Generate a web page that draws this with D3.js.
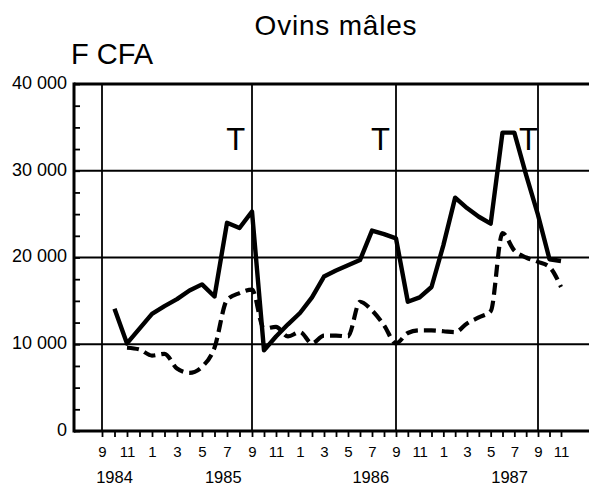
<!DOCTYPE html>
<html>
<head>
<meta charset="utf-8">
<script src="https://cdn.jsdelivr.net/npm/d3@7"></script>
<style>
  html, body { margin: 0; padding: 0; background: #fff; }
  svg { display: block; }
  text { font-family: "Liberation Sans", Arial, Helvetica, sans-serif; fill: #000; }
</style>
</head>
<body>
<svg id="chart" width="589" height="485"></svg>
<script>
// ---- DATA ----
const title = "Ovins mâles";
const unitLabel = "F CFA";
// month index: 0 = September 1984
const solidMonths = d3.range(1, 39); // Oct 1984 .. Nov 1987
const solidValues = [
  14100, 10100, 11800, 13500, 14400, 15200, 16200, 16900, 15500, 24000, 23400, 25300,
  9300, 10900, 12300, 13600, 15400, 17800, 18500, 19100, 19700, 23100, 22700, 22200,
  14900, 15400, 16600, 21400, 26900, 25700, 24700, 23900, 34400, 34400, 29500, 24900, 19800, 19600
];
const dashedMonths = d3.range(2, 39); // Nov 1984 .. Nov 1987
const dashedValues = [
  9600, 9400, 8700, 8900, 7200, 6700, 7400, 9600, 15100, 15900, 16300,
  11800, 12000, 10900, 11400, 10100, 11000, 11000, 10900, 14900, 13900, 12200, 10100,
  11300, 11600, 11600, 11500, 11400, 12400, 13100, 13800, 22800, 20800, 20000, 19500, 18900, 16600
];
const yTickValues = [0, 10000, 20000, 30000, 40000];
const yTickLabels = ["0", "10 000", "20 000", "30 000", "40 000"];
const yMinorStep = 2500;
const monthTickLabels = ["9","11","1","3","5","7","9","11","1","3","5","7","9","11","1","3","5","7","9","11"];
const yearLabels = ["1984", "1985", "1986", "1987"];
const yearLabelMonths = [1, 9.7, 21.9, 33.6];
const septemberMonths = [0, 12, 24, 36];
const tMarkMonths = [10.7, 22.7, 35.2];
const tMarkValue = 32400;

// ---- LAYOUT ----
const svg = d3.select("#chart");
const W = 589;
const x = d3.scaleLinear().domain([0, 12, 24, 36, 38]).range([102, 252, 396, 538, 561]);
const y = d3.scaleLinear().domain([0, 40000]).range([431, 84]);
const left = 74;

// grid horizontal (10k, 20k, 30k)
svg.append("g").selectAll("line").data(yTickValues.filter(v => v > 0 && v < 40000)).join("line")
  .attr("x1", left).attr("x2", W).attr("y1", d => y(d)).attr("y2", d => y(d))
  .attr("stroke", "#000").attr("stroke-width", 1.8);

// vertical year lines (September)
svg.append("g").selectAll("line").data(septemberMonths).join("line")
  .attr("x1", d => x(d)).attr("x2", d => x(d)).attr("y1", y(40000)).attr("y2", y(0))
  .attr("stroke", "#000").attr("stroke-width", 1.8);

// top border
svg.append("line").attr("x1", left).attr("x2", W).attr("y1", y(40000)).attr("y2", y(40000))
  .attr("stroke", "#000").attr("stroke-width", 3);

// Y axis
const yAxis = d3.axisLeft(y)
  .tickValues(d3.range(0, 40001, yMinorStep))
  .tickSizeInner(-6).tickSizeOuter(0).tickPadding(7)
  .tickFormat(d => { const i = yTickValues.indexOf(d); return i >= 0 ? yTickLabels[i] : ""; });
const gy = svg.append("g").attr("transform", `translate(${left},0)`).call(yAxis);
gy.select(".domain").remove();
gy.selectAll(".tick line").attr("stroke", "#000").attr("stroke-width", 1.8);
gy.selectAll(".tick text").attr("font-size", 18).attr("dy", "0.24em")
  .style("font-family", '"Liberation Sans", Arial, sans-serif').attr("fill", "#000");
svg.append("line").attr("x1", left).attr("x2", left).attr("y1", y(40000) - 1.5).attr("y2", y(0) + 1.5)
  .attr("stroke", "#000").attr("stroke-width", 3);

// X axis
const xAxis = d3.axisBottom(x)
  .tickValues(d3.range(0, 39))
  .tickSizeInner(6).tickSizeOuter(0).tickPadding(9)
  .tickFormat(d => d % 2 === 0 ? monthTickLabels[d / 2] : "");
const gx = svg.append("g").attr("transform", `translate(0,${y(0)})`).call(xAxis);
gx.select(".domain").remove();
gx.selectAll(".tick line").attr("stroke", "#000").attr("stroke-width", 1.8);
gx.selectAll(".tick text").attr("font-size", 15)
  .style("font-family", '"Liberation Sans", Arial, sans-serif').attr("fill", "#000");
svg.append("line").attr("x1", left).attr("x2", W).attr("y1", y(0)).attr("y2", y(0))
  .attr("stroke", "#000").attr("stroke-width", 3);

// year labels
svg.append("g").selectAll("text").data(yearLabels).join("text")
  .attr("x", (d, i) => x(yearLabelMonths[i])).attr("y", 483)
  .attr("text-anchor", "middle").attr("font-size", 16.5).text(d => d);

// lines
const solidData = solidMonths.map((m, i) => [m, solidValues[i]]);
const dashedData = dashedMonths.map((m, i) => [m, dashedValues[i]]);
const lineLin = d3.line().x(d => x(d[0])).y(d => y(d[1]));
const lineSmooth = d3.line().x(d => x(d[0])).y(d => y(d[1])).curve(d3.curveMonotoneX);

svg.append("path").datum(dashedData).attr("d", lineSmooth)
  .attr("fill", "none").attr("stroke", "#000").attr("stroke-width", 4.2)
  .attr("stroke-dasharray", "12,6").attr("stroke-linejoin", "round");
svg.append("path").datum(solidData).attr("d", lineLin)
  .attr("fill", "none").attr("stroke", "#000").attr("stroke-width", 4.4)
  .attr("stroke-linejoin", "round");

// T marks
svg.append("g").selectAll("text").data(tMarkMonths).join("text")
  .attr("x", d => x(d)).attr("y", y(tMarkValue))
  .attr("text-anchor", "middle").attr("font-size", 31).text("T");

// title & unit
svg.append("text").attr("x", 336).attr("y", 35).attr("text-anchor", "middle")
  .attr("font-size", 28).attr("letter-spacing", 0.8).text(title);
svg.append("text").attr("x", 71).attr("y", 64).attr("font-size", 29).text(unitLabel);
</script>
</body>
</html>
